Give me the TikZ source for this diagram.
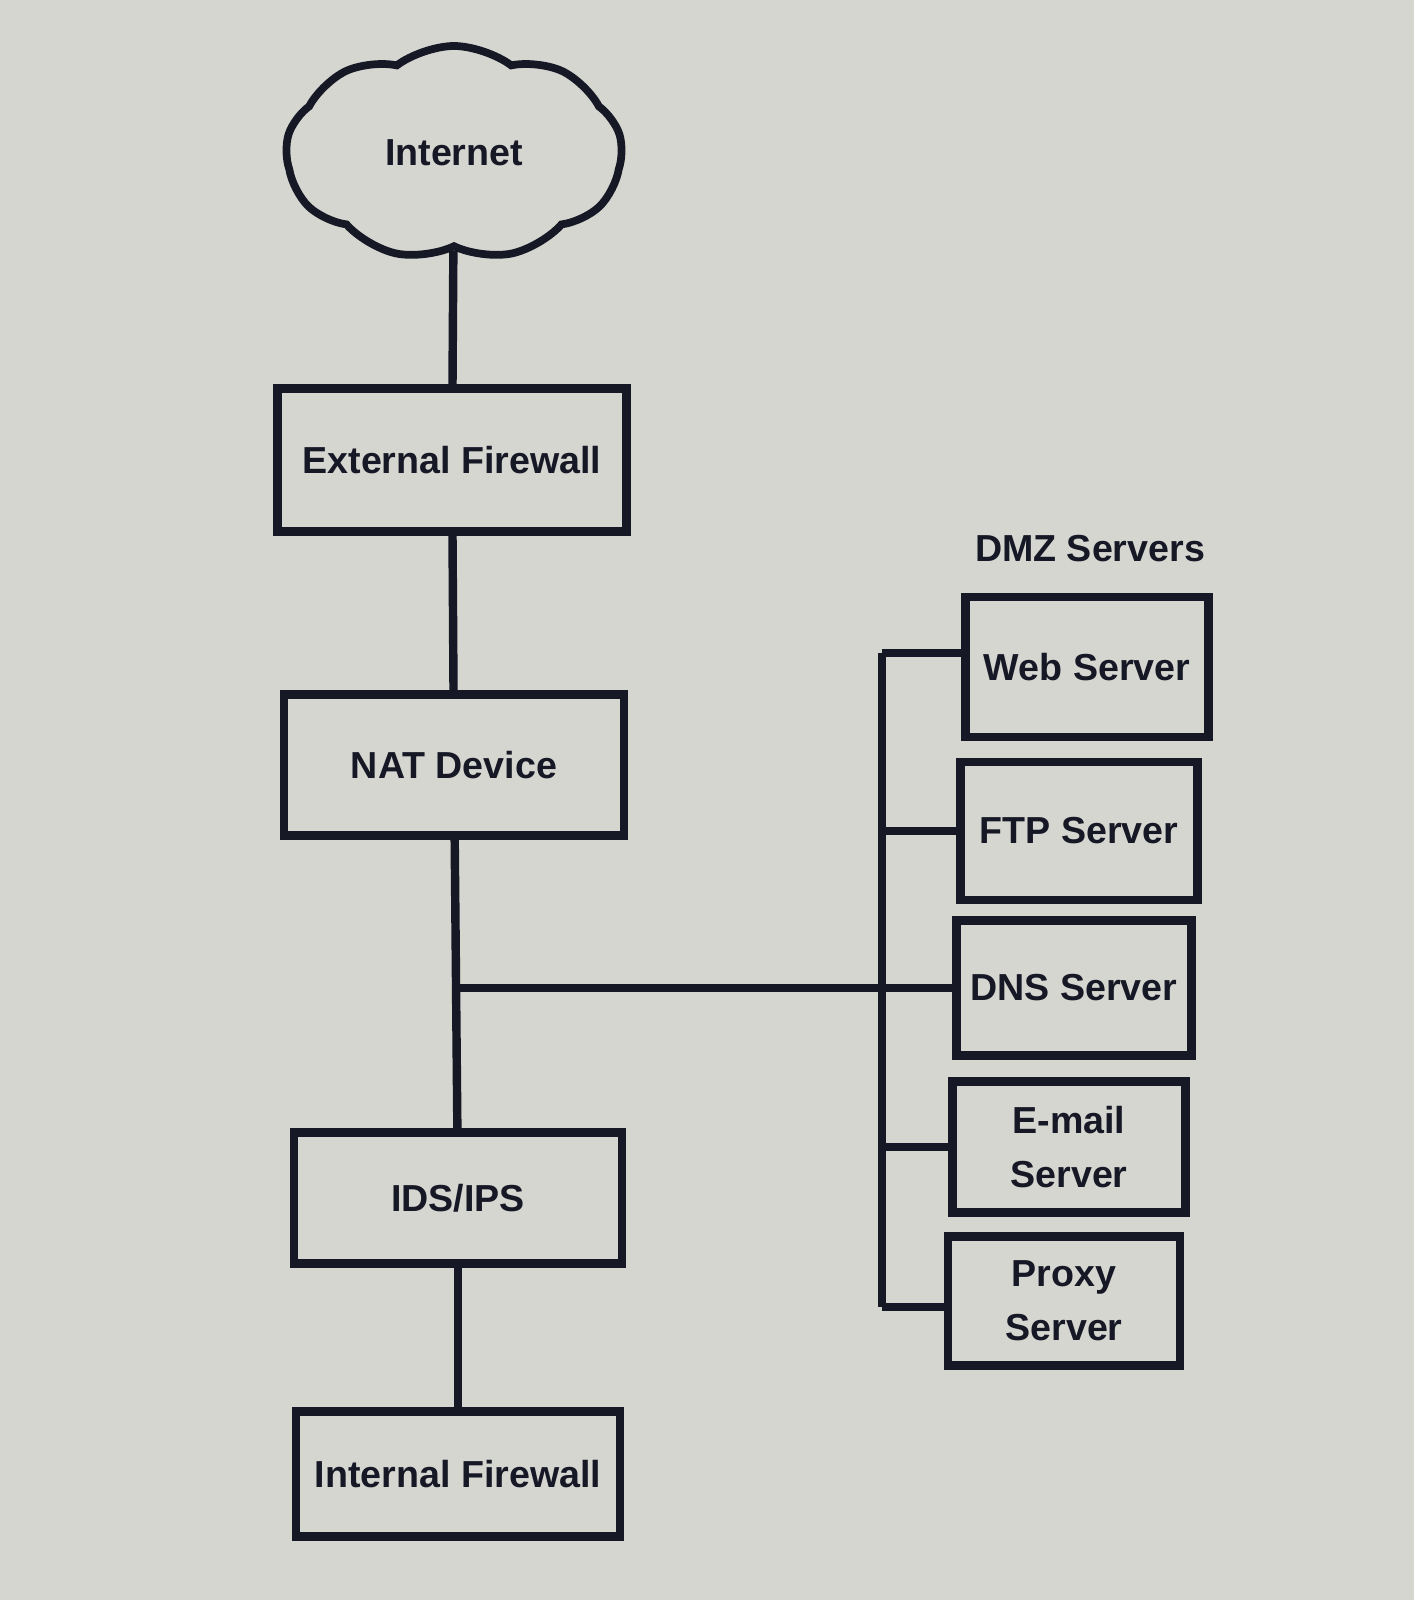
\documentclass[tikz,border=0pt]{standalone}
\usepackage{fontspec}
\setmainfont{Liberation Sans}
\usetikzlibrary{shapes.symbols}
\definecolor{screen}{RGB}{214,214,208}
\definecolor{ink}{RGB}{22,24,38}

\begin{document}
\begin{tikzpicture}[every node/.style={font=\bfseries\fontsize{10.7}{15.4}\selectfont, text=ink}, dev/.style={draw=ink, line width=2.4pt, inner sep=0pt, align=center}, link/.style={draw=ink, line width=2.4pt}]
	\fill[screen] (0,0) rectangle (14.14,-16);
	\useasboundingbox (0,0) rectangle (14.14,-16);
	\node[cloud, draw=ink, line width=2.2pt, cloud puffs=9, cloud puff arc=75, aspect=1.57, minimum width=3.36cm, minimum height=2.14cm, inner sep=0pt] (net) at (4.54,-1.53) {Internet};
	\node[dev, minimum width=3.49cm, minimum height=1.43cm] (ext) at (4.52,-4.6) {External Firewall};
	\node[dev, minimum width=3.40cm, minimum height=1.41cm] (nat) at (4.54,-7.65) {NAT Device};
	\node[dev, minimum width=3.28cm, minimum height=1.31cm] (ids) at (4.58,-11.98) {IDS/IPS};
	\node[dev, minimum width=3.24cm, minimum height=1.25cm] (int) at (4.58,-14.74) {Internal Firewall};
	\node (dmz) at (10.9,-5.49) {DMZ Servers};
	\node[dev, minimum width=2.43cm, minimum height=1.40cm] (web) at (10.87,-6.67) {Web Server};
	\node[dev, minimum width=2.37cm, minimum height=1.38cm] (ftp) at (10.79,-8.31) {FTP Server};
	\node[dev, minimum width=2.35cm, minimum height=1.35cm] (dns) at (10.74,-9.88) {DNS Server};
	\node[dev, minimum width=2.33cm, minimum height=1.31cm] (mail) at (10.69,-11.47) {E-mail\\Server};
	\node[dev, minimum width=2.32cm, minimum height=1.29cm] (proxy) at (10.64,-13.01) {Proxy\\Server};
	\coordinate (j) at (4.57,-9.88);
	\coordinate (bt) at (8.82,-6.53);
	\coordinate (bb) at (8.82,-13.07);
	\draw[link] (net) -- (ext);
	\draw[link] (ext) -- (nat);
	\draw[link] (nat) -- (ids);
	\draw[link] (ids) -- (int);
	\draw[link] (j) -- (dns);
	\draw[link] (bt) -- (bb);
	\draw[link] (bt) -- (bt -| web.west);
	\draw[link] (bt |- ftp) -- (ftp.west);
	\draw[link] (bt |- mail) -- (mail.west);
	\draw[link] (bb) -- (bb -| proxy.west);
\end{tikzpicture}
\end{document}
